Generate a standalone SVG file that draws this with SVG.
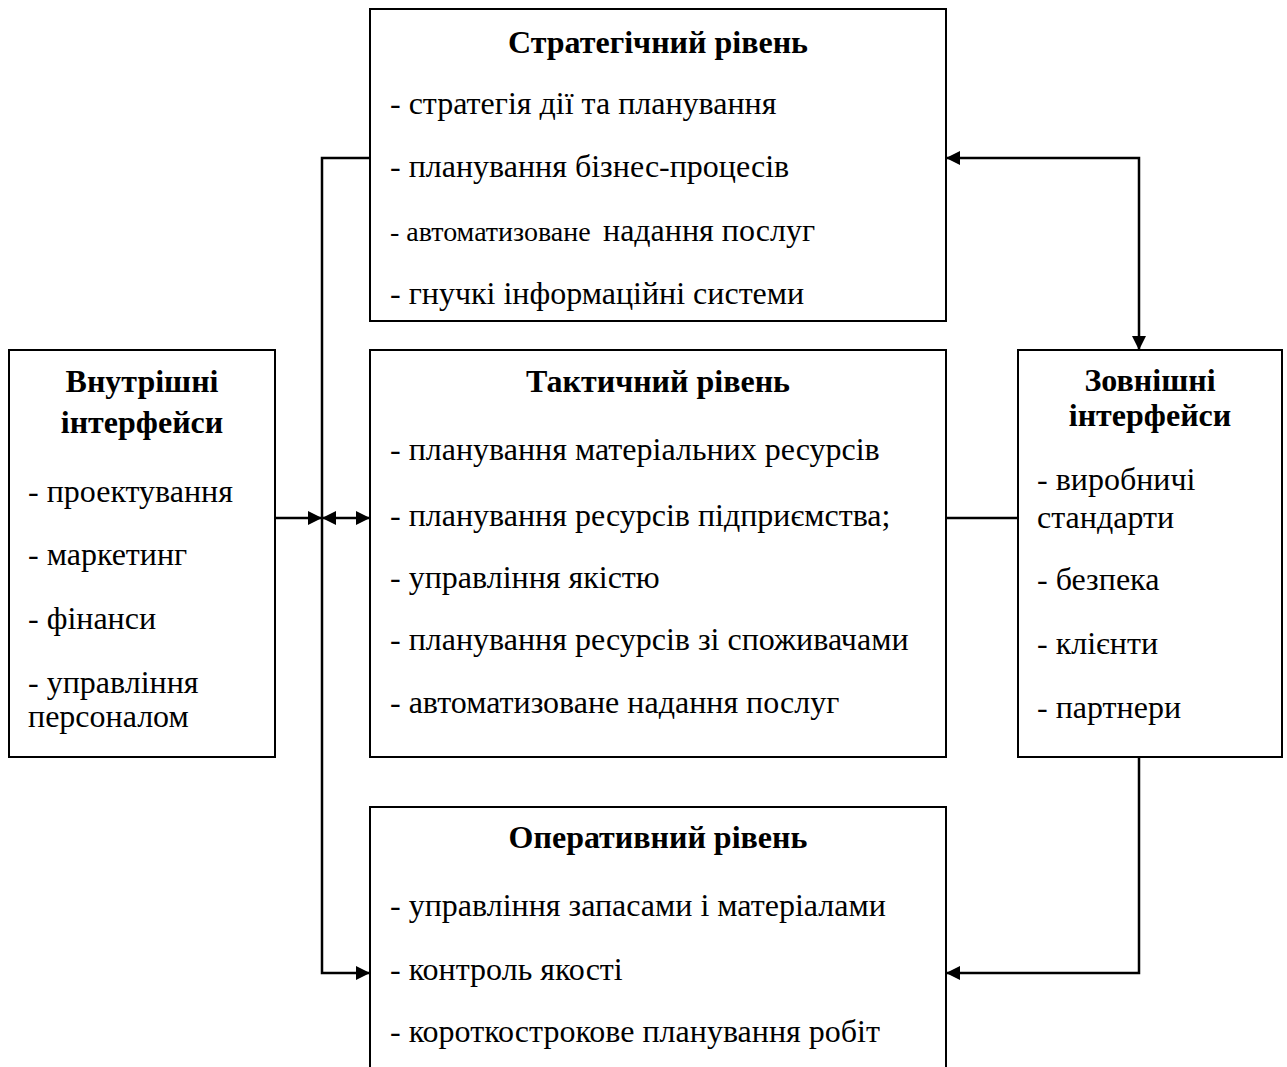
<svg xmlns="http://www.w3.org/2000/svg" width="1287" height="1067" viewBox="0 0 1287 1067">
<style>
.box{fill:#fff;stroke:#000;stroke-width:2}
.t{font-family:"Liberation Serif","Times New Roman",serif;font-size:32px;fill:#000}
.b{font-weight:bold;text-anchor:middle}
.s{font-size:28px}
.c{fill:none;stroke:#000;stroke-width:2.5}
</style>
<defs>
<marker id="ah" viewBox="0 0 10 10" refX="10" refY="5" markerWidth="15" markerHeight="14" markerUnits="userSpaceOnUse" orient="auto-start-reverse">
<path d="M0,0 L10,5 L0,10 z" fill="#000"/>
</marker>
</defs>
<g id="strategic">
<rect class="box" x="370" y="9" width="576" height="312"/>
<text class="t b" x="658" y="53">Стратегічний рівень</text>
<text class="t" x="390" y="114">- стратегія дії та планування</text>
<text class="t" x="390" y="177">- планування бізнес-процесів</text>
<text class="t" x="390" y="241"><tspan class="s">- автоматизоване</tspan><tspan x="603">надання послуг</tspan></text>
<text class="t" x="390" y="304">- гнучкі інформаційні системи</text>
</g>
<g id="tactical">
<rect class="box" x="370" y="350" width="576" height="407"/>
<text class="t b" x="658" y="392">Тактичний рівень</text>
<text class="t" x="390" y="460">- планування матеріальних ресурсів</text>
<text class="t" x="390" y="526">- планування ресурсів підприємства;</text>
<text class="t" x="390" y="588">- управління якістю</text>
<text class="t" x="390" y="650">- планування ресурсів зі споживачами</text>
<text class="t" x="390" y="713">- автоматизоване надання послуг</text>
</g>
<g id="operational">
<rect class="box" x="370" y="807" width="576" height="280"/>
<text class="t b" x="658" y="848">Оперативний рівень</text>
<text class="t" x="390" y="916">- управління запасами і матеріалами</text>
<text class="t" x="390" y="980">- контроль якості</text>
<text class="t" x="390" y="1042">- короткострокове планування робіт</text>
</g>
<g id="internal">
<rect class="box" x="9" y="350" width="266" height="407"/>
<text class="t b" x="142" y="392">Внутрішні</text>
<text class="t b" x="142" y="433">інтерфейси</text>
<text class="t" x="28" y="502">- проектування</text>
<text class="t" x="28" y="565">- маркетинг</text>
<text class="t" x="28" y="629">- фінанси</text>
<text class="t" x="28" y="693">- управління</text>
<text class="t" x="28" y="727">персоналом</text>
</g>
<g id="external">
<rect class="box" x="1018" y="350" width="264" height="407"/>
<text class="t b" x="1150" y="391">Зовнішні</text>
<text class="t b" x="1150" y="426">інтерфейси</text>
<text class="t" x="1037" y="490">- виробничі</text>
<text class="t" x="1037" y="528">стандарти</text>
<text class="t" x="1037" y="590">- безпека</text>
<text class="t" x="1037" y="654">- клієнти</text>
<text class="t" x="1037" y="718">- партнери</text>
</g>
<g id="connectors">
<path class="c" d="M370,158 H322 V973 H370" marker-end="url(#ah)"/>
<path class="c" d="M275,518 H322" marker-end="url(#ah)"/>
<path class="c" d="M322,518 H370" marker-start="url(#ah)" marker-end="url(#ah)"/>
<path class="c" d="M946,158 H1139 V350" marker-start="url(#ah)" marker-end="url(#ah)"/>
<path class="c" d="M946,518 H1018"/>
<path class="c" d="M1139,757 V973 H946" marker-end="url(#ah)"/>
</g>
</svg>
